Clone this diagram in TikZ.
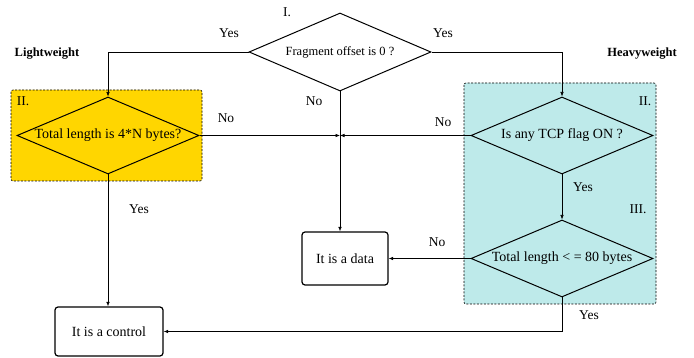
\documentclass[tikz,border=0pt]{standalone}
\usepackage{fontspec}
\setmainfont{Liberation Serif}
\usetikzlibrary{shapes.geometric,arrows.meta}
\definecolor{lwfill}{RGB}{255,214,0}
\definecolor{hwfill}{RGB}{190,234,234}
\begin{document}
\begin{tikzpicture}[x=1pt,y=-1pt,
  decision/.style={diamond,draw,line width=1pt,inner sep=0pt,aspect=2.36,minimum width=182pt,minimum height=77pt,font=\fontsize{14}{16}\selectfont},
  result/.style={draw,line width=1.2pt,rounded corners=3pt,font=\fontsize{14}{16}\selectfont},
  region/.style={draw,line width=0.6pt,rounded corners=2pt,dash pattern=on 2pt off 1.5pt},
  flow/.style={line width=0.6pt,-{Latex[length=4.5pt,width=3.5pt]}},
  lbl/.style={font=\fontsize{13.5}{15}\selectfont,inner sep=0pt},
  head/.style={font=\fontsize{12.5}{14}\selectfont\bfseries,inner sep=0pt}]
\useasboundingbox (0,0) rectangle (694,358);
% shaded regions
\path[region,fill=lwfill] (11,90) rectangle (202,181);
\path[region,fill=hwfill] (464,83) rectangle (656,304);
% decisions
\node[decision,minimum height=78pt,font=\fontsize{12.5}{14}\selectfont] (d1) at (340,52) {Fragment offset is 0 ?};
\node[decision] (d2) at (108,135.5) {Total length is 4*N bytes?};
\node[decision] (d3) at (562,135.5) {Is any TCP flag ON ?};
\node[decision] (d4) at (562,258.5) {Total length < = 80 bytes};
% results
\node[result,minimum width=86pt,minimum height=53pt] (data) at (345,258.5) {It is a data};
\node[result,minimum width=108pt,minimum height=49pt] (ctrl) at (109,331.5) {It is a control};
% junction on the central line
\coordinate (j) at (d1.south |- d2.east);
% connectors
\draw[flow] (d1.west) -| (d2.north);
\draw[flow] (d1.east) -| (d3.north);
\draw[flow] (d1.south) -- (d1.south |- data.north);
\draw[flow] (d2.east) -- (j);
\draw[flow] (d3.west) -- (j);
\draw[flow] (d2.south) -- (d2.south |- ctrl.north);
\draw[flow] (d3.south) -- (d4.north);
\draw[flow] (d4.west) -- (data.east);
\draw[flow] (d4.south) |- (ctrl.east);
% labels
\node[lbl] (l1) at (287,12) {I.};
\node[lbl] (l2) at (23,101) {II.};
\node[lbl] (l3) at (645,101) {II.};
\node[lbl] (l4) at (638,209) {III.};
\node[head] (hl) at (47,54) {Lightweight};
\node[head] (hh) at (642,54) {Heavyweight};
\node[lbl] (y1) at (229,33) {Yes};
\node[lbl] (y2) at (443,33) {Yes};
\node[lbl] (n1) at (314,101) {No};
\node[lbl] (n2) at (226,118) {No};
\node[lbl] (n3) at (443,122) {No};
\node[lbl] (y3) at (583,187) {Yes};
\node[lbl] (n4) at (437,242) {No};
\node[lbl] (y4) at (139,209) {Yes};
\node[lbl] (y5) at (589,315) {Yes};
\end{tikzpicture}
\end{document}
